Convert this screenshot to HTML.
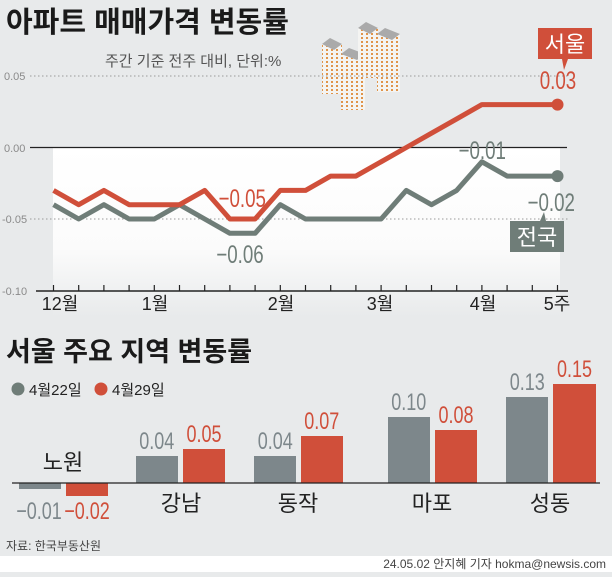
<!DOCTYPE html><html><head><meta charset="utf-8"><style>
body{margin:0;width:612px;height:572px;background:#e8eaeb;overflow:hidden;font-family:"Liberation Sans","Noto Sans CJK KR",sans-serif}
</style></head><body>
<svg width="612" height="572" xmlns="http://www.w3.org/2000/svg" font-family="Liberation Sans, Noto Sans CJK KR, sans-serif">
<defs>
<linearGradient id="g" x1="0" y1="0" x2="0" y2="1"><stop offset="0" stop-color="#fff"/><stop offset="0.6" stop-color="#fbfbfb"/><stop offset="1" stop-color="#e8eaeb"/></linearGradient>
<pattern id="win" width="5" height="4" patternUnits="userSpaceOnUse"><rect width="5" height="4" fill="#f4f4f2"/><rect x="1" y="1" width="2" height="2" fill="#e0944a"/></pattern>
</defs>
<rect x="0" y="0" width="612" height="556" fill="#e8eaeb"/>
<rect x="0" y="556" width="612" height="16" fill="#fff"/>
<text x="6" y="32" font-size="29" font-weight="bold" fill="#1a1a1a">아파트 매매가격 변동률</text>
<text x="105" y="66" font-size="15" fill="#555">주간 기준 전주 대비, 단위:%</text>
<g>
<rect x="322" y="44" width="20" height="50" fill="url(#win)"/><polygon points="322,44 330,38 342,44 334,50" fill="#aaa"/>
<rect x="341" y="54" width="24" height="56" fill="url(#win)"/><polygon points="341,54 349,48 365,54 357,60" fill="#aaa"/>
<rect x="358" y="28" width="20" height="50" fill="url(#win)"/><polygon points="358,28 366,22 378,28 370,34" fill="#aaa"/>
<rect x="377" y="34" width="23" height="58" fill="url(#win)"/><polygon points="377,34 385,28 400,34 392,40" fill="#aaa"/>
</g>
<rect x="53" y="147" width="507" height="170" fill="url(#g)"/>
<line x1="30" y1="76" x2="570" y2="76" stroke="#9a9a9a" stroke-dasharray="1.5,2.5"/>
<line x1="30" y1="219" x2="570" y2="219" stroke="#9a9a9a" stroke-dasharray="1.5,2.5"/>
<line x1="30" y1="147.5" x2="567" y2="147.5" stroke="#222" stroke-width="1.2"/>
<g font-size="11" fill="#8a8a8a"><text x="4" y="80">0.05</text><text x="4" y="152">0.00</text><text x="2" y="223">-0.05</text><text x="2" y="295">-0.10</text></g>
<line x1="36" y1="291" x2="568" y2="291" stroke="#222" stroke-width="1.5"/>
<g stroke="#222" stroke-width="1.2">
<line x1="53.5" y1="285" x2="53.5" y2="291"/><line x1="78.7" y1="285" x2="78.7" y2="291"/><line x1="103.9" y1="285" x2="103.9" y2="291"/><line x1="129.1" y1="285" x2="129.1" y2="291"/><line x1="154.3" y1="285" x2="154.3" y2="291"/><line x1="179.5" y1="285" x2="179.5" y2="291"/><line x1="204.7" y1="285" x2="204.7" y2="291"/><line x1="229.9" y1="285" x2="229.9" y2="291"/><line x1="255.1" y1="285" x2="255.1" y2="291"/><line x1="280.3" y1="285" x2="280.3" y2="291"/><line x1="305.5" y1="285" x2="305.5" y2="291"/><line x1="330.7" y1="285" x2="330.7" y2="291"/><line x1="355.9" y1="285" x2="355.9" y2="291"/><line x1="381.1" y1="285" x2="381.1" y2="291"/><line x1="406.3" y1="285" x2="406.3" y2="291"/><line x1="431.5" y1="285" x2="431.5" y2="291"/><line x1="456.7" y1="285" x2="456.7" y2="291"/><line x1="481.9" y1="285" x2="481.9" y2="291"/><line x1="507.1" y1="285" x2="507.1" y2="291"/><line x1="532.3" y1="285" x2="532.3" y2="291"/><line x1="557.5" y1="285" x2="557.5" y2="291"/>
</g>
<g font-size="18" fill="#222" text-anchor="middle"><text x="60" y="310">12월</text><text x="155" y="310">1월</text><text x="281" y="310">2월</text><text x="380" y="310">3월</text><text x="483" y="310">4월</text><text x="557" y="310">5주</text></g>
<polyline fill="none" stroke="#6f7d78" stroke-width="5" stroke-linejoin="round" points="53.5,204.7 78.7,219 103.9,204.7 129.1,219 154.3,219 179.5,204.7 204.7,219 229.9,233.3 255.1,233.3 280.3,204.7 305.5,219 330.7,219 355.9,219 381.1,219 406.3,190.4 431.5,204.7 456.7,190.4 481.9,161.8 507.1,176.1 532.3,176.1 557.5,176.1"/>
<polyline fill="none" stroke="#d04f3a" stroke-width="5" stroke-linejoin="round" points="53.5,190.4 78.7,204.7 103.9,190.4 129.1,204.7 154.3,204.7 179.5,204.7 204.7,190.4 229.9,219 255.1,219 280.3,190.4 305.5,190.4 330.7,176.1 355.9,176.1 381.1,161.8 406.3,147.5 431.5,133.2 456.7,118.9 481.9,104.6 507.1,104.6 532.3,104.6 557.5,104.6"/>
<circle cx="557.5" cy="104.6" r="6" fill="#d04f3a"/><circle cx="557.5" cy="176.1" r="6" fill="#6f7d78"/>
<rect x="538" y="28" width="54" height="31" fill="#d04f3a"/><polygon points="562,59 568,59 564,70" fill="#d04f3a"/>
<text x="565" y="52" font-size="22" fill="#fff" text-anchor="middle">서울</text>
<rect x="510" y="221" width="54" height="31" fill="#6f7d78"/><polygon points="540,221 546,221 544,212" fill="#6f7d78"/>
<text x="537" y="245" font-size="22" fill="#fff" text-anchor="middle">전국</text>
<g font-size="25" text-anchor="middle" transform="scale(0.75,1)">
<text x="744" y="89" fill="#d04f3a">0.03</text>
<text x="735" y="211" fill="#6f7d78">−0.02</text>
<text x="643" y="159" fill="#6f7d78">−0.01</text>
<text x="323" y="207" fill="#d04f3a">−0.05</text>
<text x="320" y="263" fill="#6f7d78">−0.06</text>
</g>
<text x="6" y="361" font-size="27" font-weight="bold" fill="#1a1a1a">서울 주요 지역 변동률</text>
<circle cx="18" cy="389" r="6.5" fill="#6f7d78"/><text x="29" y="395" font-size="15" fill="#222">4월22일</text>
<circle cx="101" cy="389" r="6.5" fill="#d04f3a"/><text x="112" y="395" font-size="15" fill="#222">4월29일</text>
<g fill="#7d878b"><rect x="19" y="483" width="42" height="6"/><rect x="136" y="456" width="42" height="27"/><rect x="254" y="456" width="42" height="27"/><rect x="388" y="417" width="42" height="66"/><rect x="506" y="397" width="42" height="86"/></g>
<g fill="#d04f3a"><rect x="66" y="483" width="42" height="13"/><rect x="183" y="449" width="42" height="34"/><rect x="301" y="436" width="42" height="47"/><rect x="435" y="430" width="42" height="53"/><rect x="553" y="384" width="43" height="99"/></g>
<line x1="12" y1="483" x2="600" y2="483" stroke="#222" stroke-width="1.2"/>
<g font-size="22" fill="#222" text-anchor="middle"><text x="63" y="470">노원</text><text x="181" y="511">강남</text><text x="298" y="511">동작</text><text x="432" y="511">마포</text><text x="550" y="511">성동</text></g>
<g font-size="24" text-anchor="middle" transform="scale(0.75,1)">
<text x="52" y="519" fill="#7d878b">−0.01</text><text x="116" y="519" fill="#d04f3a">−0.02</text>
<text x="209" y="449" fill="#7d878b">0.04</text><text x="272" y="442" fill="#d04f3a">0.05</text>
<text x="367" y="449" fill="#7d878b">0.04</text><text x="429" y="429" fill="#d04f3a">0.07</text>
<text x="545" y="410" fill="#7d878b">0.10</text><text x="608" y="423" fill="#d04f3a">0.08</text>
<text x="703" y="390" fill="#7d878b">0.13</text><text x="766" y="377" fill="#d04f3a">0.15</text>
</g>
<text x="6" y="550" font-size="12" fill="#444">자료:  한국부동산원</text>
<text x="606" y="568" font-size="12" fill="#444" text-anchor="end">24.05.02 안지혜 기자 hokma@newsis.com</text>
</svg>
</body></html>
